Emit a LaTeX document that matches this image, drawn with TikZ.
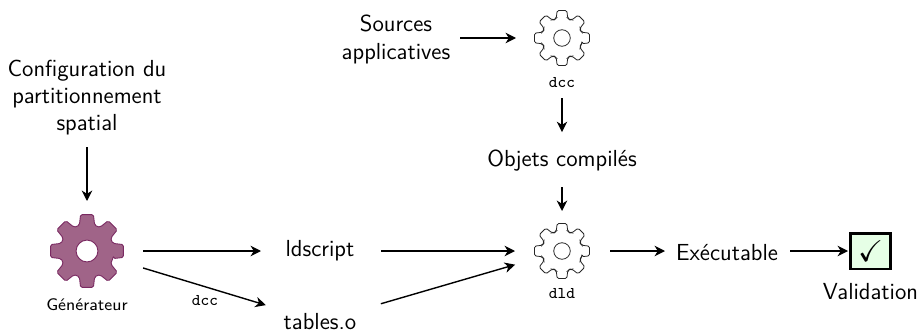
\documentclass[tikz,border=0pt]{standalone}
\usepackage{amssymb}
\usetikzlibrary{arrows.meta}
\renewcommand{\familydefault}{\sfdefault}
\definecolor{gearfill}{HTML}{A06488}
\definecolor{gearedge}{HTML}{7A2A62}
\definecolor{okfill}{HTML}{E6FFE6}
\newcommand{\geardraw}[3]{% node name, outer radius in px, style
  \begin{scope}[shift={(#1.center)},x=#2*0.5pt,y=#2*0.5pt]
  \path[#3,even odd rule,rounded corners=0.8pt]
    (-16:0.74)
    \foreach \a in {0,45,...,315}{
      -- ({\a-16}:0.74) -- ({\a-10}:1) -- ({\a+10}:1) -- ({\a+16}:0.74) -- ({\a+22.5}:0.71)
    } -- cycle
    (0,0) circle[radius=0.295];
  \end{scope}
}
\tikzset{
  lbl/.style={inner sep=0pt,align=center,font=\fontsize{11.6}{13.6}\selectfont},
  small/.style={inner sep=0pt,font=\fontsize{8.4}{10}\selectfont},
  code/.style={inner sep=0pt,font=\fontsize{8.2}{10}\selectfont\ttfamily},
  hub/.style={inner sep=0pt,minimum size=1pt},
  conn/.style={draw=black,line width=0.7pt,-{Stealth[length=5.2pt,width=5.2pt,inset=1.6pt]}},
  solidgear/.style={fill=gearfill,draw=gearedge,line width=0.45pt},
  outlinegear/.style={draw=black!85,line width=0.4pt,fill=white},
  okbox/.style={draw=black,line width=1.3pt,fill=okfill,minimum width=20.2pt,minimum height=17.8pt,inner sep=0pt,font=\fontsize{15}{15}\selectfont}
}
\begin{document}
\begin{tikzpicture}[x=0.5pt,y=-0.5pt]
\useasboundingbox (0,0) rectangle (922,332);
\node[lbl] (config) at (87,97.5) {Configuration du\\partitionnement\\spatial};
\node[hub] (gen) at (87,251) {};
\node[small] (genl) at (87,305) {Générateur};
\node[lbl] (ld) at (320,250.5) {ldscript};
\node[lbl] (tab) at (320,321.5) {tables.o};
\node[lbl] (src) at (396,39.5) {Sources\\applicatives};
\node[hub] (dcc) at (562,38) {};
\node[code] (dccl) at (562,83) {dcc};
\node[lbl] (obj) at (562,160.5) {Objets compilés};
\node[hub] (dld) at (562,251) {};
\node[code] (dldl) at (562,294) {dld};
\node[lbl] (exe) at (727,253) {Exécutable};
\node[okbox] (chk) at (870.5,251) {$\checkmark$};
\node[lbl] (val) at (870.5,291.5) {Validation};
\node[code] (dcce) at (205,300.5) {dcc};
\geardraw{gen}{37}{solidgear}
\geardraw{dcc}{28}{outlinegear}
\geardraw{dld}{28}{outlinegear}
\draw[conn,shorten <=24.8pt,shorten >=25pt] (config.center) -- (gen.center);
\draw[conn,shorten <=28pt,shorten >=29.5pt] (gen.center) -- (ld.center |- gen.center);
\draw[conn,shorten <=29.3pt,shorten >=28.3pt] (gen.center) -- (tab.center);
\draw[conn,shorten <=30.5pt,shorten >=23.5pt] (ld.center |- gen.center) -- (dld.center);
\draw[conn,shorten <=31.7pt,shorten >=24.4pt] (tab.center) -- (dld.center);
\draw[conn,shorten <=32pt,shorten >=23pt] (src.center |- dcc.center) -- (dcc.center);
\draw[conn,shorten <=30pt,shorten >=14.2pt] (dcc.center) -- (obj.center);
\draw[conn,shorten <=13.3pt,shorten >=20pt] (obj.center) -- (dld.center);
\draw[conn,shorten <=24pt,shorten >=31pt] (dld.center) -- (exe.center |- dld.center);
\draw[conn,shorten <=31.5pt,shorten >=0.5pt] (exe.center |- chk.center) -- (chk.west);
\end{tikzpicture}
\end{document}
